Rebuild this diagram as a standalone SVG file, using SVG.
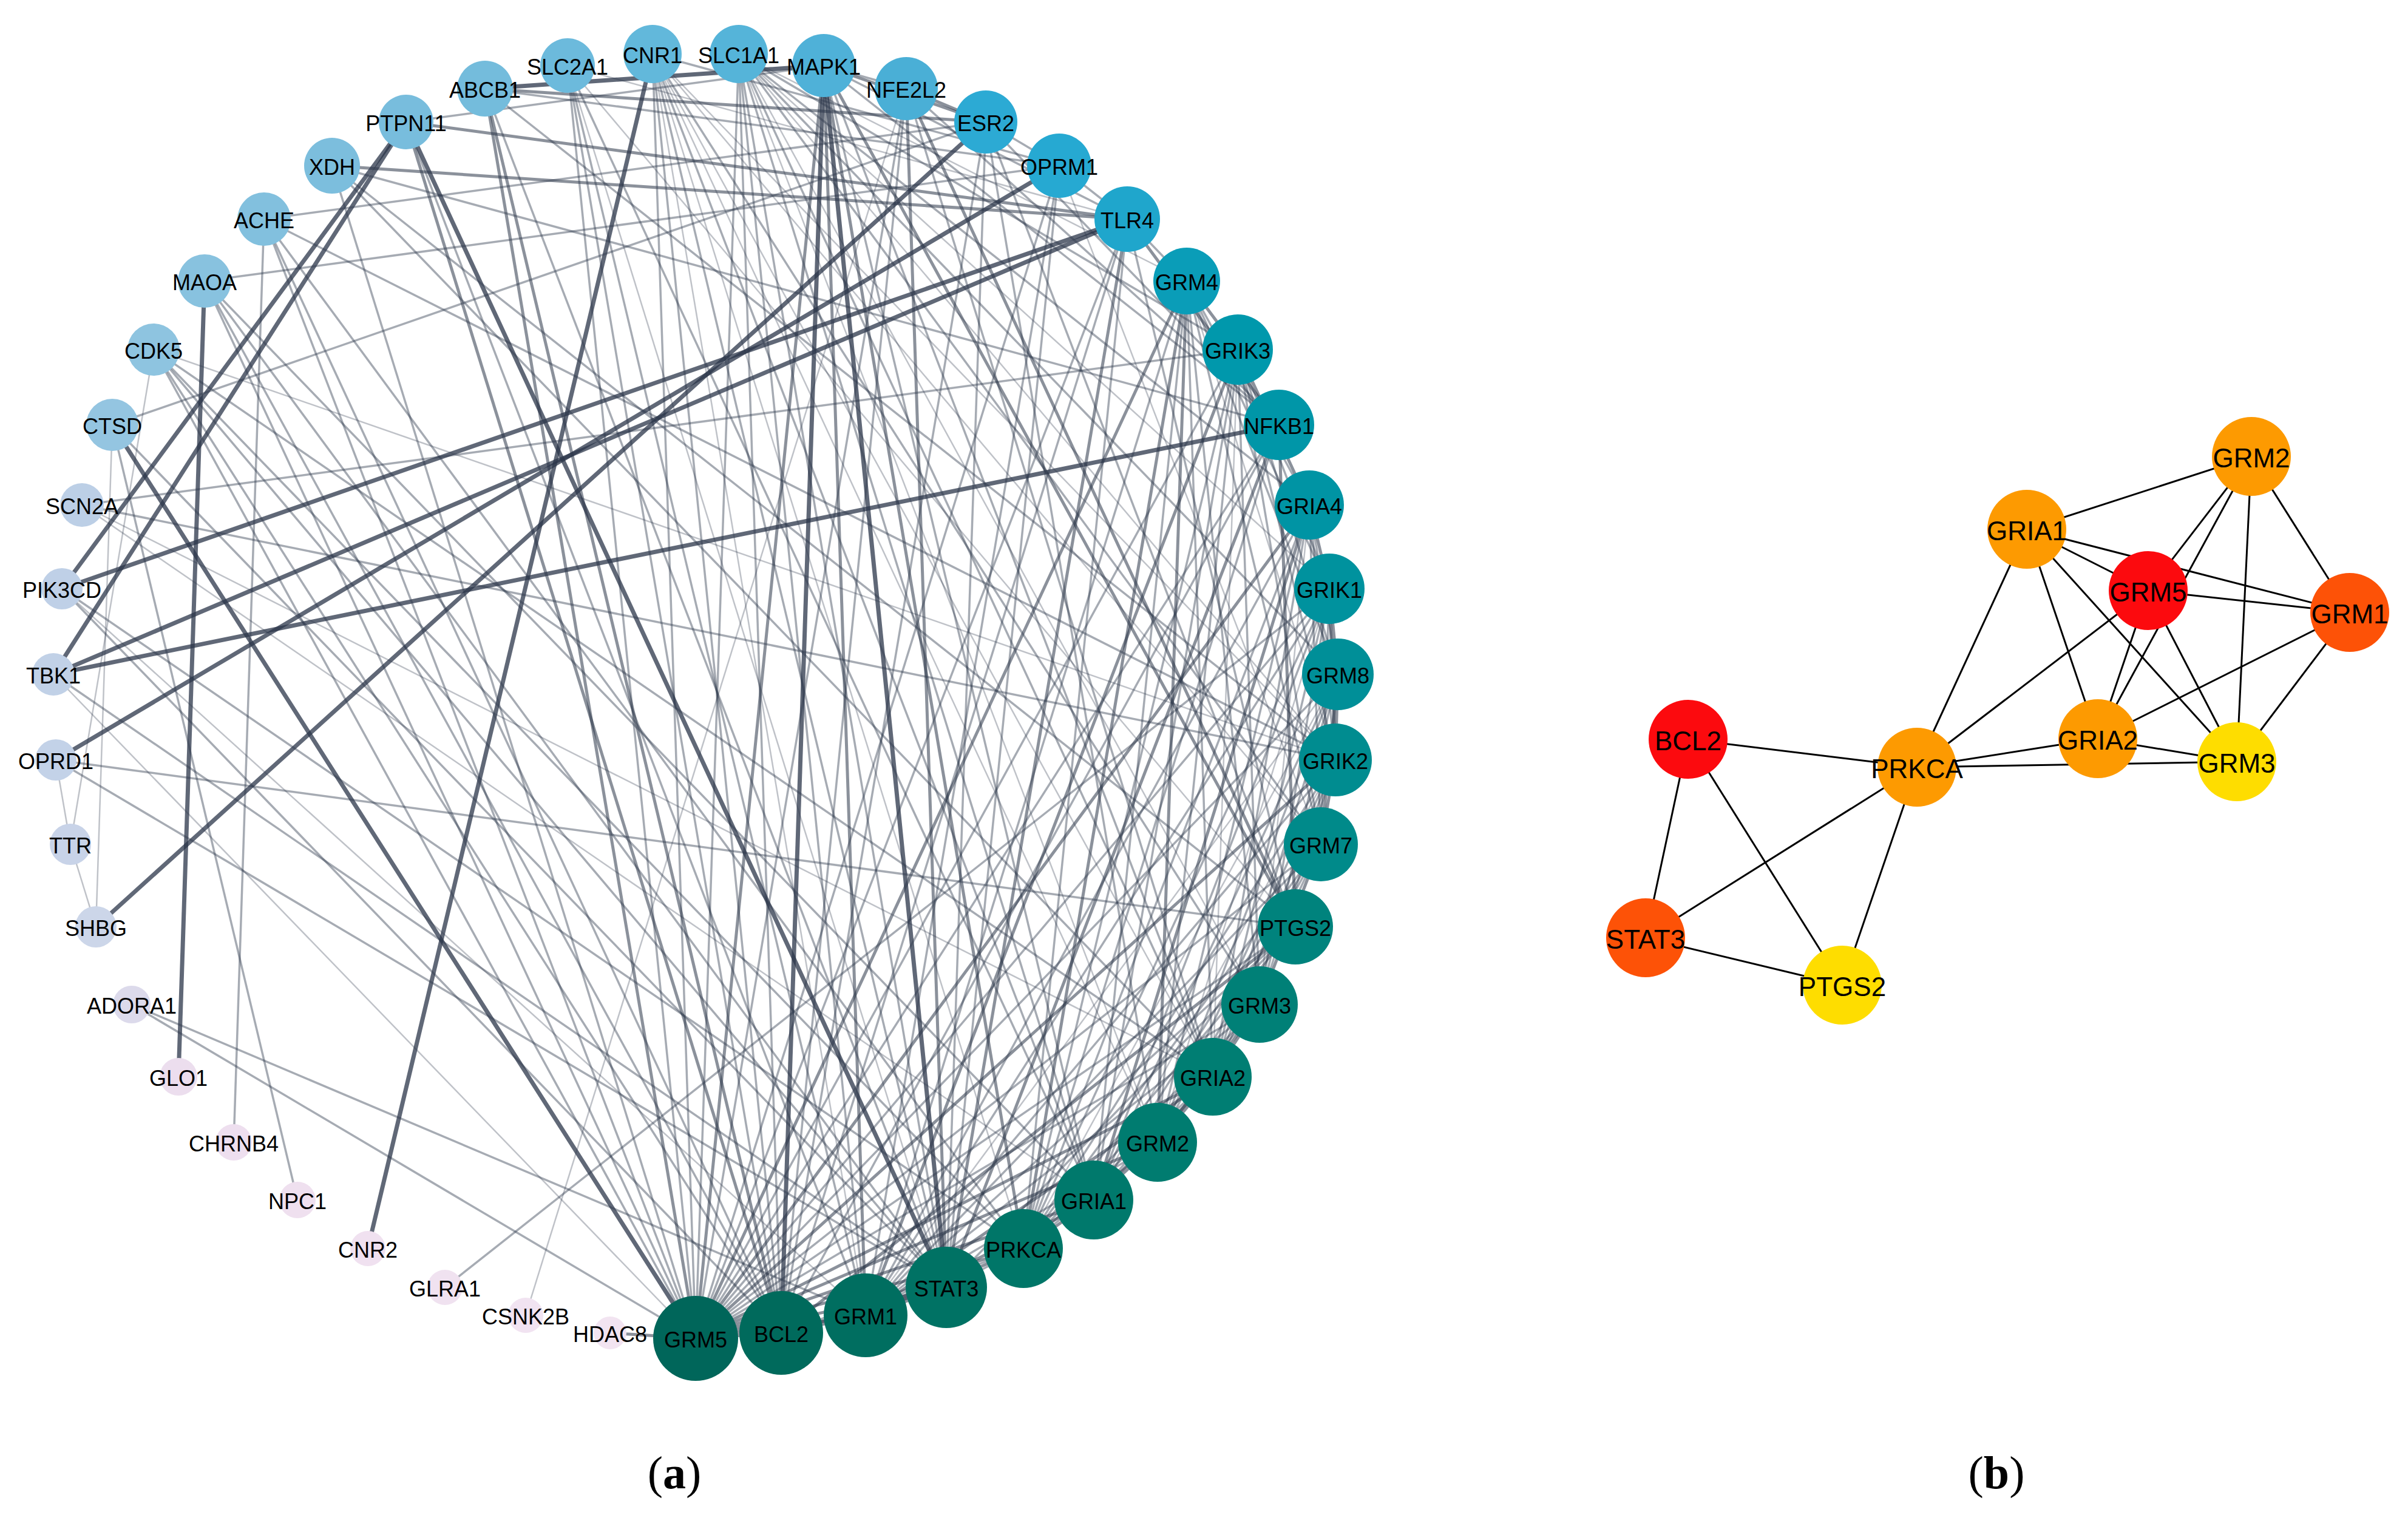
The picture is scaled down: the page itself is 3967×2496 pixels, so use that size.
<svg xmlns="http://www.w3.org/2000/svg" width="3967" height="2496" viewBox="0 0 3967 2496">
<style>
.e1{stroke:#2b3649;stroke-width:7;stroke-opacity:.75;fill:none}
.e2{stroke:#2b3649;stroke-width:5;stroke-opacity:.55;fill:none}
.e3{stroke:#2b3649;stroke-width:3.5;stroke-opacity:.42;fill:none}
.e4{stroke:#2b3649;stroke-width:2.5;stroke-opacity:.3;fill:none}
.eb{stroke:#000;stroke-width:3;fill:none}
.la{font-family:"Liberation Sans",Arial,sans-serif;font-size:36px;text-anchor:middle;dominant-baseline:central;fill:#000}
.lb{font-family:"Liberation Sans",Arial,sans-serif;font-size:44px;text-anchor:middle;dominant-baseline:central;fill:#000}
.cap{font-family:"Liberation Serif","Times New Roman",serif;font-size:76px;text-anchor:middle;fill:#000}
</style>
<rect width="3967" height="2496" fill="#fff"/>
<g id="connectors-a">
<!-- e4 -->
<line class="e4" x1="1426" y1="2167" x2="2204" y2="1111"/>
<line class="e4" x1="1802" y1="1977" x2="2200" y2="1252"/>
<line class="e4" x1="1907" y1="1882" x2="2190" y2="970"/>
<line class="e4" x1="1998" y1="1774" x2="2039" y2="576"/>
<line class="e4" x1="2075" y1="1655" x2="2157" y2="832"/>
<line class="e4" x1="2200" y1="1252" x2="1955" y2="463"/>
<line class="e4" x1="1686" y1="2057" x2="2204" y2="1111"/>
<line class="e4" x1="1217" y1="89" x2="1907" y2="1882"/>
<line class="e4" x1="1217" y1="89" x2="2075" y2="1655"/>
<line class="e4" x1="1217" y1="89" x2="2200" y2="1252"/>
<line class="e4" x1="1217" y1="89" x2="2190" y2="970"/>
<line class="e4" x1="1217" y1="89" x2="1955" y2="463"/>
<line class="e4" x1="1075" y1="89" x2="1426" y2="2167"/>
<line class="e4" x1="1075" y1="89" x2="1686" y2="2057"/>
<line class="e4" x1="1075" y1="89" x2="1907" y2="1882"/>
<line class="e4" x1="1075" y1="89" x2="1998" y2="1774"/>
<line class="e4" x1="1075" y1="89" x2="2176" y2="1391"/>
<line class="e4" x1="1075" y1="89" x2="2200" y2="1252"/>
<line class="e4" x1="1493" y1="146" x2="866" y2="2167"/>
<line class="e4" x1="1745" y1="273" x2="2176" y2="1391"/>
<line class="e4" x1="2134" y1="1527" x2="935" y2="108"/>
<line class="e4" x1="253" y1="576" x2="2200" y2="1252"/>
<line class="e4" x1="253" y1="576" x2="116" y2="1391"/>
<line class="e4" x1="185" y1="700" x2="158" y2="1527"/>
<line class="e4" x1="935" y1="108" x2="1559" y2="2121"/>
<line class="e4" x1="935" y1="108" x2="1857" y2="361"/>
<line class="e4" x1="135" y1="832" x2="1998" y2="1774"/>
<line class="e4" x1="135" y1="832" x2="1802" y2="1977"/>
<line class="e4" x1="102" y1="970" x2="1426" y2="2167"/>
<line class="e4" x1="88" y1="1111" x2="1146" y2="2205"/>
<line class="e4" x1="92" y1="1252" x2="116" y2="1391"/>
<line class="e4" x1="116" y1="1391" x2="158" y2="1527"/>
<!-- e3 -->
<line class="e3" x1="1146" y1="2205" x2="2075" y2="1655"/>
<line class="e3" x1="1146" y1="2205" x2="2176" y2="1391"/>
<line class="e3" x1="1146" y1="2205" x2="2204" y2="1111"/>
<line class="e3" x1="1146" y1="2205" x2="2190" y2="970"/>
<line class="e3" x1="1146" y1="2205" x2="2039" y2="576"/>
<line class="e3" x1="1426" y1="2167" x2="1907" y2="1882"/>
<line class="e3" x1="1426" y1="2167" x2="2075" y2="1655"/>
<line class="e3" x1="1426" y1="2167" x2="2176" y2="1391"/>
<line class="e3" x1="1426" y1="2167" x2="2200" y2="1252"/>
<line class="e3" x1="1426" y1="2167" x2="2190" y2="970"/>
<line class="e3" x1="1426" y1="2167" x2="2157" y2="832"/>
<line class="e3" x1="1426" y1="2167" x2="1955" y2="463"/>
<line class="e3" x1="1802" y1="1977" x2="2075" y2="1655"/>
<line class="e3" x1="1802" y1="1977" x2="2176" y2="1391"/>
<line class="e3" x1="1802" y1="1977" x2="2204" y2="1111"/>
<line class="e3" x1="1802" y1="1977" x2="2190" y2="970"/>
<line class="e3" x1="1802" y1="1977" x2="2039" y2="576"/>
<line class="e3" x1="1802" y1="1977" x2="1955" y2="463"/>
<line class="e3" x1="1907" y1="1882" x2="2176" y2="1391"/>
<line class="e3" x1="1907" y1="1882" x2="2200" y2="1252"/>
<line class="e3" x1="1907" y1="1882" x2="2204" y2="1111"/>
<line class="e3" x1="1907" y1="1882" x2="2157" y2="832"/>
<line class="e3" x1="1907" y1="1882" x2="2039" y2="576"/>
<line class="e3" x1="1998" y1="1774" x2="2176" y2="1391"/>
<line class="e3" x1="1998" y1="1774" x2="2200" y2="1252"/>
<line class="e3" x1="1998" y1="1774" x2="2204" y2="1111"/>
<line class="e3" x1="1998" y1="1774" x2="2190" y2="970"/>
<line class="e3" x1="1998" y1="1774" x2="2157" y2="832"/>
<line class="e3" x1="1998" y1="1774" x2="1955" y2="463"/>
<line class="e3" x1="2075" y1="1655" x2="2200" y2="1252"/>
<line class="e3" x1="2075" y1="1655" x2="2204" y2="1111"/>
<line class="e3" x1="2075" y1="1655" x2="2190" y2="970"/>
<line class="e3" x1="2075" y1="1655" x2="2039" y2="576"/>
<line class="e3" x1="2075" y1="1655" x2="1955" y2="463"/>
<line class="e3" x1="2176" y1="1391" x2="2190" y2="970"/>
<line class="e3" x1="2176" y1="1391" x2="2157" y2="832"/>
<line class="e3" x1="2176" y1="1391" x2="2039" y2="576"/>
<line class="e3" x1="2176" y1="1391" x2="1955" y2="463"/>
<line class="e3" x1="2200" y1="1252" x2="2157" y2="832"/>
<line class="e3" x1="2200" y1="1252" x2="2039" y2="576"/>
<line class="e3" x1="2204" y1="1111" x2="2157" y2="832"/>
<line class="e3" x1="2204" y1="1111" x2="2039" y2="576"/>
<line class="e3" x1="2204" y1="1111" x2="1955" y2="463"/>
<line class="e3" x1="2190" y1="970" x2="2039" y2="576"/>
<line class="e3" x1="2190" y1="970" x2="1955" y2="463"/>
<line class="e3" x1="2157" y1="832" x2="1955" y2="463"/>
<line class="e3" x1="1686" y1="2057" x2="1907" y2="1882"/>
<line class="e3" x1="1686" y1="2057" x2="1998" y2="1774"/>
<line class="e3" x1="1686" y1="2057" x2="2075" y2="1655"/>
<line class="e3" x1="1686" y1="2057" x2="2176" y2="1391"/>
<line class="e3" x1="1686" y1="2057" x2="2200" y2="1252"/>
<line class="e3" x1="1686" y1="2057" x2="2190" y2="970"/>
<line class="e3" x1="1686" y1="2057" x2="2157" y2="832"/>
<line class="e3" x1="1686" y1="2057" x2="2039" y2="576"/>
<line class="e3" x1="1217" y1="89" x2="1146" y2="2205"/>
<line class="e3" x1="1217" y1="89" x2="1426" y2="2167"/>
<line class="e3" x1="1217" y1="89" x2="1802" y2="1977"/>
<line class="e3" x1="1217" y1="89" x2="1998" y2="1774"/>
<line class="e3" x1="1217" y1="89" x2="2176" y2="1391"/>
<line class="e3" x1="1217" y1="89" x2="2204" y2="1111"/>
<line class="e3" x1="1217" y1="89" x2="2157" y2="832"/>
<line class="e3" x1="1217" y1="89" x2="2039" y2="576"/>
<line class="e3" x1="1217" y1="89" x2="1559" y2="2121"/>
<line class="e3" x1="1217" y1="89" x2="1287" y2="2196"/>
<line class="e3" x1="1075" y1="89" x2="1146" y2="2205"/>
<line class="e3" x1="1075" y1="89" x2="1287" y2="2196"/>
<line class="e3" x1="1075" y1="89" x2="1559" y2="2121"/>
<line class="e3" x1="1075" y1="89" x2="1802" y2="1977"/>
<line class="e3" x1="1075" y1="89" x2="2075" y2="1655"/>
<line class="e3" x1="1075" y1="89" x2="1745" y2="273"/>
<line class="e3" x1="1357" y1="108" x2="1802" y2="1977"/>
<line class="e3" x1="1357" y1="108" x2="1998" y2="1774"/>
<line class="e3" x1="1357" y1="108" x2="2107" y2="700"/>
<line class="e3" x1="1357" y1="108" x2="1857" y2="361"/>
<line class="e3" x1="1357" y1="108" x2="1493" y2="146"/>
<line class="e3" x1="1357" y1="108" x2="669" y2="201"/>
<line class="e3" x1="1493" y1="146" x2="1287" y2="2196"/>
<line class="e3" x1="1493" y1="146" x2="2107" y2="700"/>
<line class="e3" x1="1493" y1="146" x2="1146" y2="2205"/>
<line class="e3" x1="1493" y1="146" x2="1998" y2="1774"/>
<line class="e3" x1="1624" y1="201" x2="185" y2="700"/>
<line class="e3" x1="1624" y1="201" x2="435" y2="361"/>
<line class="e3" x1="1624" y1="201" x2="1559" y2="2121"/>
<line class="e3" x1="1624" y1="201" x2="2134" y2="1527"/>
<line class="e3" x1="1624" y1="201" x2="1287" y2="2196"/>
<line class="e3" x1="1624" y1="201" x2="2107" y2="700"/>
<line class="e3" x1="1624" y1="201" x2="1745" y2="273"/>
<line class="e3" x1="1624" y1="201" x2="1907" y2="1882"/>
<line class="e3" x1="1745" y1="273" x2="337" y2="463"/>
<line class="e3" x1="1745" y1="273" x2="1146" y2="2205"/>
<line class="e3" x1="1745" y1="273" x2="1857" y2="361"/>
<line class="e3" x1="1745" y1="273" x2="1559" y2="2121"/>
<line class="e3" x1="1745" y1="273" x2="799" y2="146"/>
<line class="e3" x1="1745" y1="273" x2="1426" y2="2167"/>
<line class="e3" x1="1857" y1="361" x2="2134" y2="1527"/>
<line class="e3" x1="1857" y1="361" x2="1287" y2="2196"/>
<line class="e3" x1="1857" y1="361" x2="1955" y2="463"/>
<line class="e3" x1="1857" y1="361" x2="1146" y2="2205"/>
<line class="e3" x1="1857" y1="361" x2="1686" y2="2057"/>
<line class="e3" x1="2107" y1="700" x2="1287" y2="2196"/>
<line class="e3" x1="2107" y1="700" x2="1146" y2="2205"/>
<line class="e3" x1="2107" y1="700" x2="1686" y2="2057"/>
<line class="e3" x1="1559" y1="2121" x2="2134" y2="1527"/>
<line class="e3" x1="1559" y1="2121" x2="92" y2="1252"/>
<line class="e3" x1="1559" y1="2121" x2="88" y2="1111"/>
<line class="e3" x1="1559" y1="2121" x2="1686" y2="2057"/>
<line class="e3" x1="1287" y1="2196" x2="102" y2="970"/>
<line class="e3" x1="1287" y1="2196" x2="1686" y2="2057"/>
<line class="e3" x1="1287" y1="2196" x2="253" y2="576"/>
<line class="e3" x1="1287" y1="2196" x2="935" y2="108"/>
<line class="e3" x1="1287" y1="2196" x2="435" y2="361"/>
<line class="e3" x1="1287" y1="2196" x2="337" y2="463"/>
<line class="e3" x1="2134" y1="1527" x2="92" y2="1252"/>
<line class="e3" x1="2134" y1="1527" x2="1146" y2="2205"/>
<line class="e3" x1="2134" y1="1527" x2="1686" y2="2057"/>
<line class="e3" x1="2134" y1="1527" x2="1426" y2="2167"/>
<line class="e3" x1="2134" y1="1527" x2="547" y2="273"/>
<line class="e3" x1="1146" y1="2205" x2="217" y2="1655"/>
<line class="e3" x1="1146" y1="2205" x2="337" y2="463"/>
<line class="e3" x1="1146" y1="2205" x2="935" y2="108"/>
<line class="e3" x1="1146" y1="2205" x2="547" y2="273"/>
<line class="e3" x1="1146" y1="2205" x2="435" y2="361"/>
<line class="e3" x1="1146" y1="2205" x2="253" y2="576"/>
<line class="e3" x1="217" y1="1655" x2="1426" y2="2167"/>
<line class="e3" x1="253" y1="576" x2="1686" y2="2057"/>
<line class="e3" x1="253" y1="576" x2="1998" y2="1774"/>
<line class="e3" x1="253" y1="576" x2="1559" y2="2121"/>
<line class="e3" x1="185" y1="700" x2="490" y2="1977"/>
<line class="e3" x1="185" y1="700" x2="1559" y2="2121"/>
<line class="e3" x1="337" y1="463" x2="1559" y2="2121"/>
<line class="e3" x1="337" y1="463" x2="1802" y2="1977"/>
<line class="e3" x1="435" y1="361" x2="385" y2="1882"/>
<line class="e3" x1="435" y1="361" x2="2200" y2="1252"/>
<line class="e3" x1="435" y1="361" x2="1686" y2="2057"/>
<line class="e3" x1="547" y1="273" x2="2107" y2="700"/>
<line class="e3" x1="547" y1="273" x2="1998" y2="1774"/>
<line class="e3" x1="799" y1="146" x2="1559" y2="2121"/>
<line class="e3" x1="799" y1="146" x2="2200" y2="1252"/>
<line class="e3" x1="669" y1="201" x2="1426" y2="2167"/>
<line class="e3" x1="935" y1="108" x2="1426" y2="2167"/>
<line class="e3" x1="935" y1="108" x2="1802" y2="1977"/>
<line class="e3" x1="135" y1="832" x2="2039" y2="576"/>
<line class="e3" x1="135" y1="832" x2="2200" y2="1252"/>
<line class="e3" x1="102" y1="970" x2="1686" y2="2057"/>
<line class="e3" x1="733" y1="2121" x2="2190" y2="970"/>
<!-- e2 -->
<line class="e2" x1="1146" y1="2205" x2="1426" y2="2167"/>
<line class="e2" x1="1146" y1="2205" x2="1802" y2="1977"/>
<line class="e2" x1="1146" y1="2205" x2="1907" y2="1882"/>
<line class="e2" x1="1146" y1="2205" x2="1998" y2="1774"/>
<line class="e2" x1="1146" y1="2205" x2="2200" y2="1252"/>
<line class="e2" x1="1146" y1="2205" x2="2157" y2="832"/>
<line class="e2" x1="1146" y1="2205" x2="1955" y2="463"/>
<line class="e2" x1="1426" y1="2167" x2="1802" y2="1977"/>
<line class="e2" x1="1426" y1="2167" x2="1998" y2="1774"/>
<line class="e2" x1="1426" y1="2167" x2="2039" y2="576"/>
<line class="e2" x1="1802" y1="1977" x2="1907" y2="1882"/>
<line class="e2" x1="1802" y1="1977" x2="1998" y2="1774"/>
<line class="e2" x1="1802" y1="1977" x2="2157" y2="832"/>
<line class="e2" x1="1907" y1="1882" x2="1998" y2="1774"/>
<line class="e2" x1="1907" y1="1882" x2="2075" y2="1655"/>
<line class="e2" x1="1907" y1="1882" x2="1955" y2="463"/>
<line class="e2" x1="1998" y1="1774" x2="2075" y2="1655"/>
<line class="e2" x1="2075" y1="1655" x2="2176" y2="1391"/>
<line class="e2" x1="2176" y1="1391" x2="2200" y2="1252"/>
<line class="e2" x1="2176" y1="1391" x2="2204" y2="1111"/>
<line class="e2" x1="2200" y1="1252" x2="2204" y2="1111"/>
<line class="e2" x1="2200" y1="1252" x2="2190" y2="970"/>
<line class="e2" x1="2204" y1="1111" x2="2190" y2="970"/>
<line class="e2" x1="2190" y1="970" x2="2157" y2="832"/>
<line class="e2" x1="2157" y1="832" x2="2039" y2="576"/>
<line class="e2" x1="2039" y1="576" x2="1955" y2="463"/>
<line class="e2" x1="1686" y1="2057" x2="1146" y2="2205"/>
<line class="e2" x1="1686" y1="2057" x2="1426" y2="2167"/>
<line class="e2" x1="1686" y1="2057" x2="1802" y2="1977"/>
<line class="e2" x1="1686" y1="2057" x2="1955" y2="463"/>
<line class="e2" x1="1357" y1="108" x2="1146" y2="2205"/>
<line class="e2" x1="1357" y1="108" x2="1426" y2="2167"/>
<line class="e2" x1="1357" y1="108" x2="1686" y2="2057"/>
<line class="e2" x1="1357" y1="108" x2="2134" y2="1527"/>
<line class="e2" x1="1357" y1="108" x2="1624" y2="201"/>
<line class="e2" x1="1493" y1="146" x2="1559" y2="2121"/>
<line class="e2" x1="1493" y1="146" x2="2134" y2="1527"/>
<line class="e2" x1="1493" y1="146" x2="1624" y2="201"/>
<line class="e2" x1="1624" y1="201" x2="799" y2="146"/>
<line class="e2" x1="1857" y1="361" x2="547" y2="273"/>
<line class="e2" x1="1857" y1="361" x2="669" y2="201"/>
<line class="e2" x1="1857" y1="361" x2="2107" y2="700"/>
<line class="e2" x1="1857" y1="361" x2="1559" y2="2121"/>
<line class="e2" x1="2107" y1="700" x2="1559" y2="2121"/>
<line class="e2" x1="2107" y1="700" x2="2134" y2="1527"/>
<line class="e2" x1="1559" y1="2121" x2="1287" y2="2196"/>
<line class="e2" x1="1559" y1="2121" x2="1146" y2="2205"/>
<line class="e2" x1="1559" y1="2121" x2="1426" y2="2167"/>
<line class="e2" x1="1287" y1="2196" x2="2134" y2="1527"/>
<line class="e2" x1="1287" y1="2196" x2="799" y2="146"/>
<line class="e2" x1="1287" y1="2196" x2="1146" y2="2205"/>
<line class="e2" x1="1287" y1="2196" x2="1426" y2="2167"/>
<line class="e2" x1="1287" y1="2196" x2="669" y2="201"/>
<line class="e2" x1="1146" y1="2205" x2="1005" y2="2196"/>
<line class="e2" x1="1146" y1="2205" x2="799" y2="146"/>
<!-- e1 -->
<line class="e1" x1="1075" y1="89" x2="606" y2="2057"/>
<line class="e1" x1="337" y1="463" x2="294" y2="1774"/>
<line class="e1" x1="669" y1="201" x2="102" y2="970"/>
<line class="e1" x1="669" y1="201" x2="88" y2="1111"/>
<line class="e1" x1="1857" y1="361" x2="88" y2="1111"/>
<line class="e1" x1="1857" y1="361" x2="102" y2="970"/>
<line class="e1" x1="2107" y1="700" x2="88" y2="1111"/>
<line class="e1" x1="1745" y1="273" x2="92" y2="1252"/>
<line class="e1" x1="1624" y1="201" x2="158" y2="1527"/>
<line class="e1" x1="185" y1="700" x2="1146" y2="2205"/>
<line class="e1" x1="669" y1="201" x2="1559" y2="2121"/>
<line class="e1" x1="1357" y1="108" x2="1559" y2="2121"/>
<line class="e1" x1="1357" y1="108" x2="1287" y2="2196"/>
<line class="e1" x1="1357" y1="108" x2="799" y2="146"/>
</g>
<g id="nodes-a">
<g id="a-GRM5"><circle cx="1146" cy="2205" r="70" fill="#00665a"/><text class="la" x="1146" y="2207">GRM5</text></g>
<g id="a-BCL2"><circle cx="1287" cy="2196" r="69" fill="#006a5c"/><text class="la" x="1287" y="2198">BCL2</text></g>
<g id="a-GRM1"><circle cx="1426" cy="2167" r="69" fill="#006e60"/><text class="la" x="1426" y="2169">GRM1</text></g>
<g id="a-STAT3"><circle cx="1559" cy="2121" r="67" fill="#007264"/><text class="la" x="1559" y="2123">STAT3</text></g>
<g id="a-PRKCA"><circle cx="1686" cy="2057" r="65" fill="#007668"/><text class="la" x="1686" y="2059">PRKCA</text></g>
<g id="a-GRIA1"><circle cx="1802" cy="1977" r="65" fill="#00796c"/><text class="la" x="1802" y="1979">GRIA1</text></g>
<g id="a-GRM2"><circle cx="1907" cy="1882" r="65" fill="#007c70"/><text class="la" x="1907" y="1884">GRM2</text></g>
<g id="a-GRIA2"><circle cx="1998" cy="1774" r="64" fill="#007e73"/><text class="la" x="1998" y="1776">GRIA2</text></g>
<g id="a-GRM3"><circle cx="2075" cy="1655" r="63" fill="#008077"/><text class="la" x="2075" y="1657">GRM3</text></g>
<g id="a-PTGS2"><circle cx="2134" cy="1527" r="62" fill="#00837d"/><text class="la" x="2134" y="1529">PTGS2</text></g>
<g id="a-GRM7"><circle cx="2176" cy="1391" r="61" fill="#008a8a"/><text class="la" x="2176" y="1393">GRM7</text></g>
<g id="a-GRIK2"><circle cx="2200" cy="1252" r="60" fill="#008c90"/><text class="la" x="2200" y="1254">GRIK2</text></g>
<g id="a-GRM8"><circle cx="2204" cy="1111" r="59" fill="#008f98"/><text class="la" x="2204" y="1113">GRM8</text></g>
<g id="a-GRIK1"><circle cx="2190" cy="970" r="58" fill="#00929e"/><text class="la" x="2190" y="972">GRIK1</text></g>
<g id="a-GRIA4"><circle cx="2157" cy="832" r="57" fill="#0094a4"/><text class="la" x="2157" y="834">GRIA4</text></g>
<g id="a-NFKB1"><circle cx="2107" cy="700" r="58" fill="#0096a8"/><text class="la" x="2107" y="702">NFKB1</text></g>
<g id="a-GRIK3"><circle cx="2039" cy="576" r="58" fill="#0098ac"/><text class="la" x="2039" y="578">GRIK3</text></g>
<g id="a-GRM4"><circle cx="1955" cy="463" r="55" fill="#0a9db8"/><text class="la" x="1955" y="465">GRM4</text></g>
<g id="a-TLR4"><circle cx="1857" cy="361" r="54" fill="#1fa6cc"/><text class="la" x="1857" y="363">TLR4</text></g>
<g id="a-OPRM1"><circle cx="1745" cy="273" r="53" fill="#26a9d2"/><text class="la" x="1745" y="275">OPRM1</text></g>
<g id="a-ESR2"><circle cx="1624" cy="201" r="52" fill="#2caad4"/><text class="la" x="1624" y="203">ESR2</text></g>
<g id="a-NFE2L2"><circle cx="1493" cy="146" r="52" fill="#4aafd6"/><text class="la" x="1493" y="148">NFE2L2</text></g>
<g id="a-MAPK1"><circle cx="1357" cy="108" r="52" fill="#4fb1d8"/><text class="la" x="1357" y="110">MAPK1</text></g>
<g id="a-SLC1A1"><circle cx="1217" cy="89" r="48" fill="#55b4d9"/><text class="la" x="1217" y="91">SLC1A1</text></g>
<g id="a-CNR1"><circle cx="1075" cy="89" r="48" fill="#62b8db"/><text class="la" x="1075" y="91">CNR1</text></g>
<g id="a-SLC2A1"><circle cx="935" cy="108" r="45" fill="#6cbadc"/><text class="la" x="935" y="110">SLC2A1</text></g>
<g id="a-ABCB1"><circle cx="799" cy="146" r="46" fill="#74bcdc"/><text class="la" x="799" y="148">ABCB1</text></g>
<g id="a-PTPN11"><circle cx="669" cy="201" r="45" fill="#78bddd"/><text class="la" x="669" y="203">PTPN11</text></g>
<g id="a-XDH"><circle cx="547" cy="273" r="46" fill="#7cbedd"/><text class="la" x="547" y="275">XDH</text></g>
<g id="a-ACHE"><circle cx="435" cy="361" r="44" fill="#82c0de"/><text class="la" x="435" y="363">ACHE</text></g>
<g id="a-MAOA"><circle cx="337" cy="463" r="44" fill="#88c2df"/><text class="la" x="337" y="465">MAOA</text></g>
<g id="a-CDK5"><circle cx="253" cy="576" r="43" fill="#8ec4e0"/><text class="la" x="253" y="578">CDK5</text></g>
<g id="a-CTSD"><circle cx="185" cy="700" r="43" fill="#94c5e1"/><text class="la" x="185" y="702">CTSD</text></g>
<g id="a-SCN2A"><circle cx="135" cy="832" r="36" fill="#bccfe6"/><text class="la" x="135" y="834">SCN2A</text></g>
<g id="a-PIK3CD"><circle cx="102" cy="970" r="34" fill="#bfd0e7"/><text class="la" x="102" y="972">PIK3CD</text></g>
<g id="a-TBK1"><circle cx="88" cy="1111" r="35" fill="#c1d1e7"/><text class="la" x="88" y="1113">TBK1</text></g>
<g id="a-OPRD1"><circle cx="92" cy="1252" r="34" fill="#c3d2e8"/><text class="la" x="92" y="1254">OPRD1</text></g>
<g id="a-TTR"><circle cx="116" cy="1391" r="34" fill="#c8d3e8"/><text class="la" x="116" y="1393">TTR</text></g>
<g id="a-SHBG"><circle cx="158" cy="1527" r="34" fill="#ccd6e9"/><text class="la" x="158" y="1529">SHBG</text></g>
<g id="a-ADORA1"><circle cx="217" cy="1655" r="31" fill="#dcdaeb"/><text class="la" x="217" y="1657">ADORA1</text></g>
<g id="a-GLO1"><circle cx="294" cy="1774" r="31" fill="#ecdeee"/><text class="la" x="294" y="1776">GLO1</text></g>
<g id="a-CHRNB4"><circle cx="385" cy="1882" r="30" fill="#eedfef"/><text class="la" x="385" y="1884">CHRNB4</text></g>
<g id="a-NPC1"><circle cx="490" cy="1977" r="30" fill="#efe0ef"/><text class="la" x="490" y="1979">NPC1</text></g>
<g id="a-CNR2"><circle cx="606" cy="2057" r="29" fill="#f0e1f0"/><text class="la" x="606" y="2059">CNR2</text></g>
<g id="a-GLRA1"><circle cx="733" cy="2121" r="29" fill="#f0e2f0"/><text class="la" x="733" y="2123">GLRA1</text></g>
<g id="a-CSNK2B"><circle cx="866" cy="2167" r="29" fill="#f1e3f1"/><text class="la" x="866" y="2169">CSNK2B</text></g>
<g id="a-HDAC8"><circle cx="1005" cy="2196" r="27" fill="#f2e4f1"/><text class="la" x="1005" y="2198">HDAC8</text></g>
</g>
<g id="connectors-b">
<line class="eb" x1="3709" y1="752" x2="3339" y2="872"/>
<line class="eb" x1="3709" y1="752" x2="3539" y2="973"/>
<line class="eb" x1="3709" y1="752" x2="3456" y2="1217"/>
<line class="eb" x1="3709" y1="752" x2="3685" y2="1255"/>
<line class="eb" x1="3709" y1="752" x2="3871" y2="1009"/>
<line class="eb" x1="3339" y1="872" x2="3539" y2="973"/>
<line class="eb" x1="3339" y1="872" x2="3871" y2="1009"/>
<line class="eb" x1="3339" y1="872" x2="3456" y2="1217"/>
<line class="eb" x1="3339" y1="872" x2="3685" y2="1255"/>
<line class="eb" x1="3339" y1="872" x2="3158" y2="1264"/>
<line class="eb" x1="3539" y1="973" x2="3871" y2="1009"/>
<line class="eb" x1="3539" y1="973" x2="3158" y2="1264"/>
<line class="eb" x1="3539" y1="973" x2="3456" y2="1217"/>
<line class="eb" x1="3539" y1="973" x2="3685" y2="1255"/>
<line class="eb" x1="3871" y1="1009" x2="3456" y2="1217"/>
<line class="eb" x1="3871" y1="1009" x2="3685" y2="1255"/>
<line class="eb" x1="3456" y1="1217" x2="3158" y2="1264"/>
<line class="eb" x1="3456" y1="1217" x2="3685" y2="1255"/>
<line class="eb" x1="3158" y1="1264" x2="3685" y2="1255"/>
<line class="eb" x1="2781" y1="1218" x2="3158" y2="1264"/>
<line class="eb" x1="2781" y1="1218" x2="2711" y2="1545"/>
<line class="eb" x1="2781" y1="1218" x2="3035" y2="1623"/>
<line class="eb" x1="3158" y1="1264" x2="2711" y2="1545"/>
<line class="eb" x1="3158" y1="1264" x2="3035" y2="1623"/>
<line class="eb" x1="2711" y1="1545" x2="3035" y2="1623"/>
</g>
<g id="nodes-b">
<g id="b-GRM2"><circle cx="3709" cy="752" r="65" fill="#fd9a01"/><text class="lb" x="3709" y="754">GRM2</text></g>
<g id="b-GRIA1"><circle cx="3339" cy="872" r="65" fill="#fd9a01"/><text class="lb" x="3339" y="874">GRIA1</text></g>
<g id="b-GRM5"><circle cx="3539" cy="973" r="65" fill="#fc0a0e"/><text class="lb" x="3539" y="975">GRM5</text></g>
<g id="b-GRM1"><circle cx="3871" cy="1009" r="65" fill="#fd5207"/><text class="lb" x="3871" y="1011">GRM1</text></g>
<g id="b-BCL2"><circle cx="2781" cy="1218" r="65" fill="#fc0a0e"/><text class="lb" x="2781" y="1220">BCL2</text></g>
<g id="b-PRKCA"><circle cx="3158" cy="1264" r="65" fill="#fd9a01"/><text class="lb" x="3158" y="1266">PRKCA</text></g>
<g id="b-GRIA2"><circle cx="3456" cy="1217" r="65" fill="#fd9a01"/><text class="lb" x="3456" y="1219">GRIA2</text></g>
<g id="b-GRM3"><circle cx="3685" cy="1255" r="65" fill="#fedd00"/><text class="lb" x="3685" y="1257">GRM3</text></g>
<g id="b-STAT3"><circle cx="2711" cy="1545" r="65" fill="#fd5207"/><text class="lb" x="2711" y="1547">STAT3</text></g>
<g id="b-PTGS2"><circle cx="3035" cy="1623" r="65" fill="#fedd00"/><text class="lb" x="3035" y="1625">PTGS2</text></g>
</g>
<text class="cap" x="1111" y="2452">(<tspan font-weight="bold">a</tspan>)</text>
<text class="cap" x="3289" y="2452">(<tspan font-weight="bold">b</tspan>)</text>
</svg>
